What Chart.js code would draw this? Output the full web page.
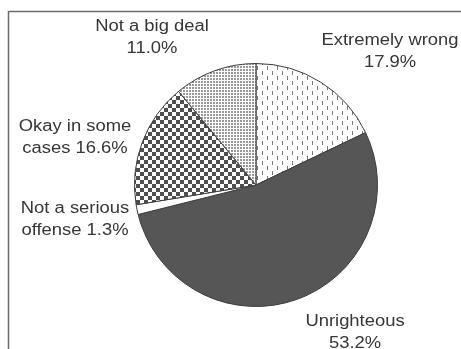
<!DOCTYPE html>
<html>
<head>
<meta charset="utf-8">
<script src="https://cdn.jsdelivr.net/npm/chart.js@4/dist/chart.umd.min.js"></script>
<style>
  html, body { margin: 0; padding: 0; background: #fff; }
  #chart { display: block; }
</style>
</head>
<body>
<canvas id="chart" width="461" height="349"></canvas>
<script>
// Survey answers, clockwise from 12 o'clock
const categories = ['Extremely wrong', 'Unrighteous', 'Not a serious offense', 'Okay in some cases', 'Not a big deal'];
const shares = [17.9, 53.2, 1.3, 16.6, 11.0];
// two-line labels as printed beside the pie
const labelLines = [
    ['Extremely wrong', '17.9%'],
    ['Unrighteous', '53.2%'],
    ['Not a serious', 'offense 1.3%'],
    ['Okay in some', 'cases 16.6%'],
    ['Not a big deal', '11.0%']
];

// label centres (x, y of first line)
const labelPos = [
    [390, 41],
    [355, 322],
    [75, 209],
    [75, 127],
    [152, 27]
];

function makePattern(size, paint) {
    const c = document.createElement('canvas');
    c.width = size;
    c.height = size;
    const g = c.getContext('2d');
    g.fillStyle = '#fff';
    g.fillRect(0, 0, size, size);
    paint(g);
    return g.createPattern(c, 'repeat');
}

const ctx = document.getElementById('chart').getContext('2d');

const dashFill = makePattern(10, g => {
    g.fillStyle = '#7a7a7a';
    g.fillRect(2, 1, 1, 4);
    g.fillRect(7, 6, 1, 4);
});
const dotFill = makePattern(3, g => {
    g.fillStyle = '#999';
    g.fillRect(0, 0, 2, 2);
});
const checkFill = makePattern(8, g => {
    g.fillStyle = '#4e4e4e';
    g.fillRect(0, 0, 4, 4);
    g.fillRect(4, 4, 4, 4);
});

const framePlugin = {
    id: 'frame',
    beforeDraw(chart) {
        const c = chart.ctx;
        c.save();
        c.strokeStyle = '#6b6b6b';
        c.lineWidth = 1.5;
        c.beginPath();
        c.moveTo(8.5, chart.height);
        c.lineTo(8.5, 11.5);
        c.lineTo(chart.width, 11.5);
        c.stroke();
        c.restore();
    }
};

const labelPlugin = {
    id: 'sliceLabels',
    afterDraw(chart) {
        const c = chart.ctx;
        c.save();
        c.font = '16px "Liberation Sans", Arial, sans-serif';
        c.fillStyle = '#363636';
        c.textAlign = 'center';
        c.textBaseline = 'middle';
        labelLines.forEach((lines, i) => {
            const [x, y] = labelPos[i];
            lines.forEach((t, j) => {
                // the labels are set a little wide
                c.save();
                c.translate(x, y + j * 21.5);
                c.scale(1.15, 1);
                c.fillText(t, 0, 0);
                c.restore();
            });
        });
        c.restore();
    }
};

new Chart(ctx, {
    type: 'pie',
    data: {
        labels: categories,
        datasets: [{
            data: shares,
            backgroundColor: [dashFill, '#565656', '#ffffff', checkFill, dotFill],
            borderColor: '#3c3c3c',
            borderWidth: 1
        }]
    },
    options: {
        responsive: false,
        animation: false,
        layout: { padding: { left: 134, right: 83, top: 63, bottom: 42 } },
        plugins: {
            legend: { display: false },
            tooltip: { enabled: false }
        }
    },
    plugins: [framePlugin, labelPlugin]
});
</script>
</body>
</html>
